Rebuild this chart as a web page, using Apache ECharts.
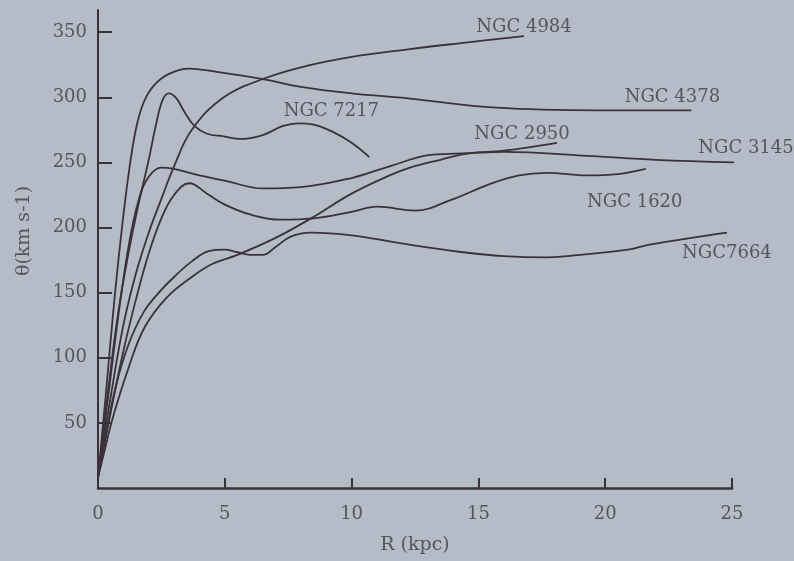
<!DOCTYPE html>
<html>
<head>
<meta charset="utf-8">
<script src="https://cdn.jsdelivr.net/npm/echarts@6/dist/echarts.min.js"></script>
<style>
html,body{margin:0;padding:0;background:#b5bcc8;}
#c{width:794px;height:561px;}
</style>
</head>
<body>
<div id="c"></div>
<script>
// Rotation curves: [R (kpc), theta (km/s)]
const ngc4984 = [[0,8],[0.5,70],[1.0,125],[1.5,165],[2.0,196],[2.5,222],[3.0,247],[3.7,275],[4.96,300],[6.5,314],[8,323],[10,331],[12.3,337],[14.5,342],[16.8,347]];
const ngc4378 = [[0,8],[0.3,70],[0.6,135],[0.9,192],[1.2,240],[1.5,276],[1.8,296],[2.2,309],[2.8,318],[3.6,322],[4.5,320],[6.5,314],[8,308],[10,303],[12.3,299],[15.7,292],[19.7,290],[23.4,290]];
const ngc7217 = [[0,8],[0.4,75],[0.8,135],[1.2,180],[1.6,218],[2.0,252],[2.3,280],[2.55,298],[2.8,303],[3.1,299],[3.4,289],[3.8,278],[4.3,272],[4.96,270],[5.6,268],[6.5,271],[7.3,278],[7.9,280],[8.5,279],[9.3,273],[10.0,265],[10.7,254]];
const ngc3145 = [[0,8],[0.4,70],[0.8,132],[1.2,185],[1.6,221],[2.0,239],[2.5,246],[3.0,245],[4.0,240],[5.0,236],[6.5,230],[8,231],[10,238],[11.5,247],[13.2,256],[14.6,257],[16,258],[19.3,255],[22,252],[25.2,250]];
const ngc2950 = [[0,8],[0.2,24],[0.6,55],[1.2,92],[1.83,123],[2.7,146],[3.7,162],[4.5,172],[5.5,179],[7,192],[8.4,207],[10,226],[11.5,240],[12.3,246],[13.5,252],[14.6,257],[16,259],[18.1,265]];
const ngc1620 = [[0,8],[0.5,58],[1.0,105],[1.5,145],[2.0,180],[2.5,207],[3.0,225],[3.6,234],[4.3,226],[4.96,218],[6,210],[7.2,206],[8.5,207],[10,212],[11,216],[12.5,213],[13.9,221],[15.4,233],[16.6,240],[17.7,242],[19.3,240],[20.5,241],[21.6,245]];
const ngc7664 = [[0,8],[0.3,40],[0.7,78],[1.2,110],[1.8,135],[2.4,150],[3.0,162],[3.7,174],[4.4,182],[5.0,183],[5.5,181],[6.0,179],[6.5,179],[7.0,185],[7.6,193],[8.4,196],[10,194],[11.9,188],[14.4,181],[16,178],[17.7,177],[18.5,178],[20.9,183],[21.8,187],[24.8,196]];

const seriesNames = ['NGC 4984','NGC 4378','NGC 7217','NGC 3145','NGC 2950','NGC 1620','NGC7664'];
const seriesData = [ngc4984, ngc4378, ngc7217, ngc3145, ngc2950, ngc1620, ngc7664];
const xTicks = [5,10,15,20,25];
const xLabels = [0,5,10,15,20,25];
const yTicks = [50,100,150,200,250,300,350];

const labelOffsets = [[0,-9],[-19,-13],[-38,-46],[12,-14],[-35,-9],[-11,33],[0,21]];

const lineColor = '#3a3238';
const textColor = '#53565d';
const serif = '"DejaVu Serif", "Liberation Serif", serif';

const chart = echarts.init(document.getElementById('c'), null, {renderer:'canvas'});
chart.setOption({
  backgroundColor: '#b5bcc8',
  animation: false,
  grid: {left: 98, right: 62, top: 10, bottom: 73},
  xAxis: {
    type: 'value', min: 0, max: 25, interval: 5,
    name: 'R (kpc)', nameLocation: 'middle', nameGap: 48,
    nameTextStyle: {fontFamily: serif, fontSize: 19, color: textColor},
    axisLine: {show: true, lineStyle: {color: lineColor, width: 2.5}},
    axisTick: {show: true, inside: true, length: 10, customValues: xTicks, lineStyle: {color: lineColor, width: 2}},
    axisLabel: {show: true, customValues: xLabels, margin: 17, fontFamily: serif, fontSize: 18, color: textColor},
    splitLine: {show: false}
  },
  yAxis: {
    type: 'value', min: 0, max: 367,
    name: 'θ(km s-1)', nameLocation: 'middle', nameGap: 64, nameRotate: 90,
    nameTextStyle: {fontFamily: serif, fontSize: 19, color: textColor, padding: [0, 0, 0, 36]},
    axisLine: {show: true, lineStyle: {color: lineColor, width: 2}},
    axisTick: {show: true, inside: true, length: 14, customValues: yTicks, lineStyle: {color: lineColor, width: 2}},
    axisLabel: {show: true, customValues: yTicks, margin: 11, fontFamily: serif, fontSize: 18, color: textColor},
    splitLine: {show: false}
  },
  series: seriesNames.map((n, i) => ({
    name: n,
    type: 'line',
    data: seriesData[i],
    smooth: 0.4,
    symbol: 'none',
    clip: false,
    lineStyle: {color: lineColor, width: 1.8},
    endLabel: {
      show: true, formatter: n, distance: 0,
      offset: labelOffsets[i], align: 'center', verticalAlign: 'middle',
      fontFamily: serif, fontSize: 18, color: textColor
    }
  }))
});
</script>
</body>
</html>
